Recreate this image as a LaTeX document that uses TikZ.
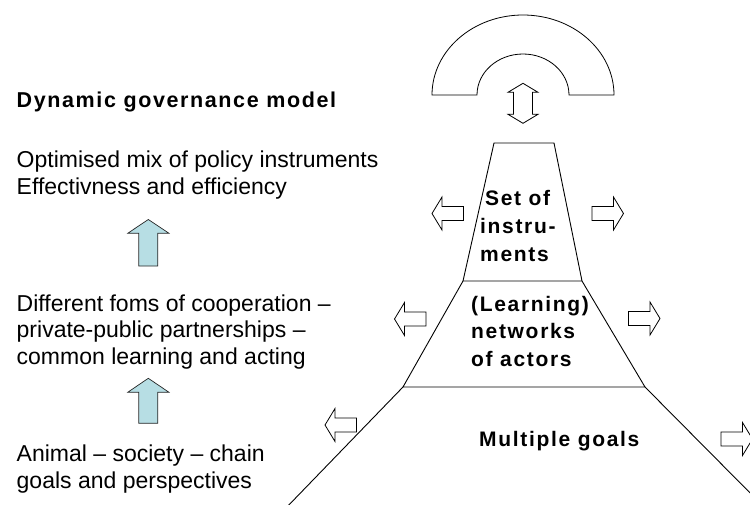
\documentclass[tikz,border=0pt]{standalone}
\usepackage{fontspec}
\setmainfont{Liberation Sans}
\definecolor{arrowblue}{RGB}{183,222,228}
\tikzset{
  outline/.style={draw=black, line width=0.8pt, fill=white, line join=miter},
  shapeline/.style={draw=black, line width=0.9pt},
  bluearrow/.style={draw=black!85, line width=0.7pt, fill=arrowblue},
  body/.style={font=\fontsize{23}{26.5}\selectfont, align=left, anchor=base west, inner sep=0pt},
  titletext/.style={font=\fontsize{21.5}{26}\selectfont\bfseries\addfontfeature{LetterSpace=7.5}, align=left, anchor=base west, inner sep=0pt},
  traptext/.style={font=\fontsize{21}{27.7}\selectfont\bfseries\addfontfeature{LetterSpace=8}, align=left, anchor=base west, inner sep=0pt},
  harrow/.pic={\draw[outline] (0,0) -- (10,-16.5) -- (10,-7) -- (31.5,-7) -- (31.5,7) -- (10,7) -- (10,16.5) -- cycle;}
}
\begin{document}
\begin{tikzpicture}[x=1pt,y=-1pt]
\useasboundingbox (0,0) rectangle (750,504);
\clip (0,0) rectangle (750,504);
% trapezoid corners
\coordinate (t1) at (494,143);
\coordinate (t2) at (554,143);
\coordinate (m1) at (463,281);
\coordinate (m2) at (582,281);
\coordinate (b1) at (403,387);
\coordinate (b2) at (645,387);
\coordinate (f1) at (284,510);
\coordinate (f2) at (767,510);
\draw[shapeline] (t1) -- (t2) -- (m2) -- (m1) -- cycle;
\draw[shapeline] (m2) -- (b2) -- (b1) -- (m1);
\draw[shapeline] (f1) -- (b1) (b2) -- (f2);
% arch
\draw[outline] (432,95) arc[start angle=180, end angle=360, x radius=91, y radius=80]
  -- (569,95) arc[start angle=0, end angle=-180, x radius=46, y radius=41] -- cycle;
% vertical double arrow
\draw[outline] (523,83.3) -- (538,92.3) -- (532.5,92.3) -- (532.5,114.3) -- (538,114.3)
  -- (523,123.3) -- (508,114.3) -- (513.5,114.3) -- (513.5,92.3) -- (508,92.3) -- cycle;
% side arrows
\pic at (432,213.5) {harrow};
\pic[rotate=180] at (623.5,213.5) {harrow};
\pic at (394.5,319) {harrow};
\pic[rotate=180] at (660,318.5) {harrow};
\pic at (325,425) {harrow};
\pic[rotate=180] at (752.5,439) {harrow};
% blue arrows
\draw[bluearrow] (148.3,219.5) -- (169,233.3) -- (157.8,233.3) -- (157.8,266) -- (138.8,266)
  -- (138.8,233.3) -- (127.7,233.3) -- cycle;
\draw[bluearrow] (148.3,378.3) -- (169,392.3) -- (157.8,392.3) -- (157.8,423.3) -- (138.8,423.3)
  -- (138.8,392.3) -- (127.7,392.3) -- cycle;
% texts (base anchor of a multi-line node = baseline of its last line)
\node[titletext] (title) at (16.5,107.7) {Dynamic governance model};
\node[body] (opt) at (16.5,194) {Optimised mix of policy instruments\\Effectivness and efficiency};
\node[body] (coop) at (16.5,364) {Different foms of cooperation –\\private-public partnerships –\\common learning and acting};
\node[body] (anim) at (16.5,488) {Animal – society – chain\\goals and perspectives};
\node[traptext] (soi) at (480,261) {\hspace{5pt}Set of\\instru-\\ments};
\node[traptext] (net) at (471,366.5) {(Learning)\\networks\\of actors};
\node[traptext] (mg) at (479,446.7) {Multiple goals};
\end{tikzpicture}
\end{document}
